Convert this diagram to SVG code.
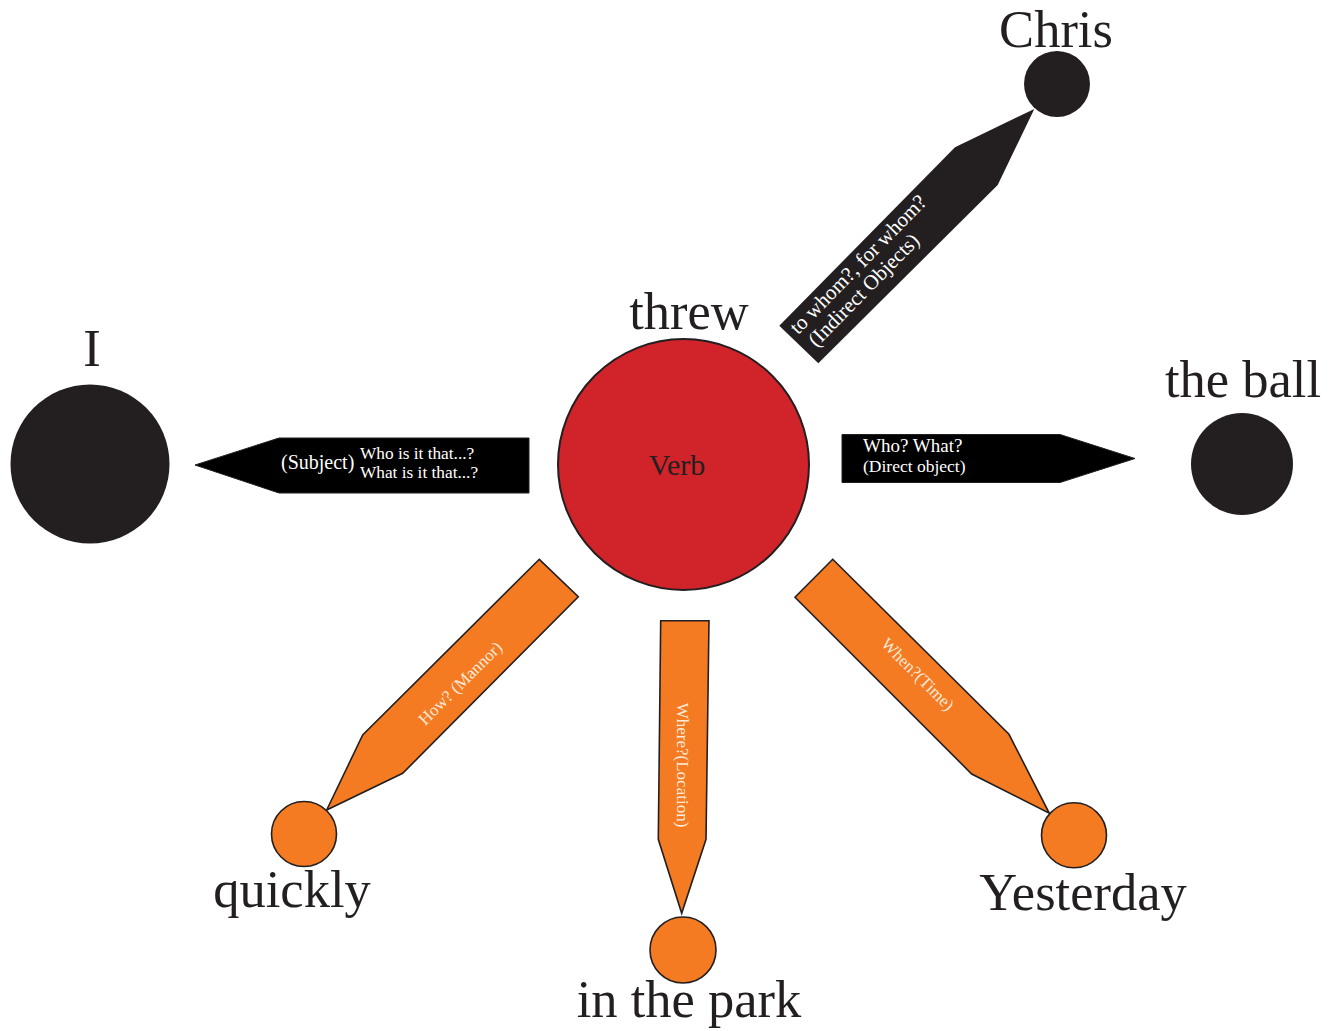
<svg xmlns="http://www.w3.org/2000/svg" width="1338" height="1031" viewBox="0 0 1338 1031">
<style>
.lbl{font-family:"Liberation Serif","Times New Roman",serif;font-size:52.5px;fill:#231f20;text-anchor:middle}
.dark{fill:#231f20}
.blk{fill:#000;stroke:#231f20;stroke-width:1}
.org{fill:#f47b22;stroke:#231f20;stroke-width:1.6;stroke-linejoin:miter}
.wt{font-family:"Liberation Serif","Times New Roman",serif;fill:#fff}
.ot{font-family:"Liberation Serif","Times New Roman",serif;fill:#fde9d9;font-size:17px;text-anchor:middle}
</style>
<rect width="1338" height="1031" fill="#fff"/>
<g id="connectors">
  <g id="edge-subject">
    <polygon class="blk" points="195,465 279,438 529,438 529,493 279,493"/>
    <text class="wt" x="281" y="469" font-size="20">(Subject)</text>
    <text class="wt" x="360" y="459" font-size="17.3">Who is it that...?</text>
    <text class="wt" x="360" y="478" font-size="17.3">What is it that...?</text>
  </g>
  <g id="edge-direct">
    <polygon class="blk" points="842,434.5 1060,434.5 1135,458.5 1060,482.5 842,482.5"/>
    <text class="wt" x="863" y="452" font-size="19">Who? What?</text>
    <text class="wt" x="863" y="472" font-size="17.5">(Direct object)</text>
  </g>
  <g id="edge-indirect">
    <polygon class="dark" points="779.3,325.7 955,147.3 1034.3,109 997.7,185 818.3,363.3"/>
    <g transform="translate(798.7,344.5) rotate(-45.5)">
      <text class="wt" x="6" y="-7" font-size="21">to whom?, for whom?</text>
      <text class="wt" x="10" y="15" font-size="21">(Indirect Objects)</text>
    </g>
  </g>
  <g id="edge-manner">
    <polygon class="org" points="539.3,559.3 578.3,596.7 402.7,773.3 326.7,810 362.7,735"/>
    <text class="ot" transform="translate(460,683) rotate(-44.8)" y="6">How? (Mannor)</text>
  </g>
  <g id="edge-location">
    <polygon class="org" points="660.7,620.7 709,620.7 706,839.3 681.7,913.3 658.3,839.3"/>
    <text class="ot" transform="translate(683,765) rotate(90)" y="6">Where?(Location)</text>
  </g>
  <g id="edge-time">
    <polygon class="org" points="832.7,559.3 1009,734.3 1049.3,813.3 971.7,774 795,597.3"/>
    <text class="ot" transform="translate(918,674) rotate(44.9)" y="6">When?(Time)</text>
  </g>
</g>
<g id="node-verb">
  <circle cx="683.5" cy="464.5" r="125.5" fill="#d0232a" stroke="#231f20" stroke-width="2"/>
  <text x="677" y="475" font-family="Liberation Serif,Times New Roman,serif" font-size="30" fill="#231f20" text-anchor="middle">Verb</text>
  <text class="lbl" x="689" y="329">threw</text>
</g>
<g id="node-i">
  <circle class="dark" cx="90" cy="464" r="79.5"/>
  <text class="lbl" x="92" y="366">I</text>
</g>
<g id="node-ball">
  <circle class="dark" cx="1242" cy="464" r="51"/>
  <text class="lbl" x="1243" y="397">the ball</text>
</g>
<g id="node-chris">
  <circle class="dark" cx="1057" cy="84" r="33"/>
  <text class="lbl" x="1056" y="47">Chris</text>
</g>
<g id="node-quickly">
  <circle class="org" cx="304" cy="834" r="32.5"/>
  <text class="lbl" x="292" y="907">quickly</text>
</g>
<g id="node-park">
  <circle class="org" cx="683" cy="950" r="33"/>
  <text class="lbl" x="689" y="1017">in the park</text>
</g>
<g id="node-yesterday">
  <circle class="org" cx="1074" cy="835.3" r="32.5"/>
  <text class="lbl" x="1083" y="910">Yesterday</text>
</g>
</svg>
